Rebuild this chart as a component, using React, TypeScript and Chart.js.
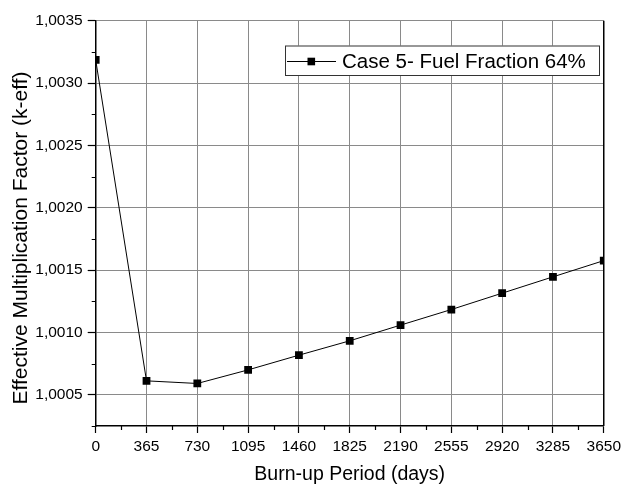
import React, { useEffect, useRef } from 'react';
import { Chart, registerables } from 'chart.js';

Chart.register(...registerables);

const burnupDays = [0, 365, 730, 1095, 1460, 1825, 2190, 2555, 2920, 3285, 3650];
const keff = [1.003185, 1.000612, 1.000591, 1.0007, 1.000818, 1.000933, 1.001059, 1.001184, 1.001315, 1.001446, 1.001576];
const xTickValues = [0, 365, 730, 1095, 1460, 1825, 2190, 2555, 2920, 3285, 3650];
const xMinorTicks = [182.5, 547.5, 912.5, 1277.5, 1642.5, 2007.5, 2372.5, 2737.5, 3102.5, 3467.5];
const yTickValues = [1.0005, 1.001, 1.0015, 1.002, 1.0025, 1.003, 1.0035];
const yMinorTicks = [1.00025, 1.00075, 1.00125, 1.00175, 1.00225, 1.00275, 1.00325];
const seriesLabel = 'Case 5- Fuel Fraction 64%';
const xTitle = 'Burn-up Period (days)';
const yTitle = 'Effective Multiplication Factor (k-eff)';

const FONT = '"Liberation Sans", Arial, Helvetica, sans-serif';

const extrasPlugin = {
  id: 'extras',
  afterDraw(chart: any) {
    const ctx = chart.ctx as CanvasRenderingContext2D;
    const area = chart.chartArea;
    const xs = chart.scales.x;
    const ys = chart.scales.y;
    ctx.save();
    // right border
    ctx.strokeStyle = '#000';
    ctx.lineWidth = 1.5;
    ctx.beginPath();
    ctx.moveTo(area.right, area.top);
    ctx.lineTo(area.right, area.bottom);
    ctx.stroke();
    // minor ticks
    ctx.lineWidth = 1.2;
    ctx.beginPath();
    xMinorTicks.forEach((v) => {
      const px = Math.round(xs.getPixelForValue(v)) + 0.5;
      ctx.moveTo(px, area.bottom);
      ctx.lineTo(px, area.bottom + 4);
    });
    yMinorTicks.forEach((v) => {
      const py = Math.round(ys.getPixelForValue(v)) + 0.5;
      ctx.moveTo(area.left - 4, py);
      ctx.lineTo(area.left, py);
    });
    ctx.stroke();
    // legend
    const bx = 285, by = 45.5, bw = 314, bh = 29.5;
    ctx.fillStyle = '#fff';
    ctx.fillRect(bx, by, bw, bh);
    ctx.strokeStyle = '#333';
    ctx.lineWidth = 1;
    ctx.strokeRect(bx + 0.5, by + 0.5, bw, bh);
    ctx.strokeStyle = '#000';
    ctx.beginPath();
    ctx.moveTo(287, 61.5);
    ctx.lineTo(336, 61.5);
    ctx.stroke();
    ctx.fillStyle = '#000';
    ctx.fillRect(311.3 - 3.8, 61.5 - 3.8, 7.6, 7.6);
    ctx.font = `20.5px ${FONT}`;
    ctx.textAlign = 'left';
    ctx.textBaseline = 'alphabetic';
    ctx.fillText(seriesLabel, 342, 67.5);
    // y title
    ctx.translate(26.7, 238);
    ctx.rotate(-Math.PI / 2);
    ctx.font = `21px ${FONT}`;
    ctx.textAlign = 'center';
    ctx.fillText(yTitle, 0, 0);
    ctx.restore();
  },
};

export default function App() {
  const ref = useRef<HTMLCanvasElement | null>(null);
  useEffect(() => {
    document.body.style.margin = '0';
    const canvas = ref.current;
    if (!canvas) return;
    const chart = new Chart(canvas, {
      type: 'line',
      data: {
        datasets: [
          {
            label: seriesLabel,
            data: burnupDays.map((d, i) => ({ x: d, y: keff[i] })),
            borderColor: '#000',
            borderWidth: 1,
            backgroundColor: '#000',
            pointStyle: 'rect',
            pointRadius: 5.5,
            pointBorderWidth: 0,
            pointBackgroundColor: '#000',
            tension: 0,
          },
        ],
      },
      options: {
        responsive: false,
        animation: false,
        devicePixelRatio: 1,
        layout: { padding: { top: 20.7, right: 19.7, left: 0, bottom: 0 } },
        plugins: {
          legend: { display: false },
          tooltip: { enabled: false },
        },
        scales: {
          x: {
            type: 'linear',
            min: 0,
            max: 3650,
            afterBuildTicks: (s: any) => {
              s.ticks = xTickValues.map((v) => ({ value: v }));
            },
            afterFit: (s: any) => {
              s.height = 58;
            },
            ticks: {
              color: '#000',
              font: { family: FONT, size: 15.5 },
              padding: 4,
              maxRotation: 0,
              autoSkip: false,
              callback: (v: any) => String(v),
            },
            grid: {
              color: '#8a8a8a',
              lineWidth: 1,
              tickLength: 7,
              tickColor: '#000',
              tickWidth: 1.2,
            },
            border: { color: '#000', width: 1.5 },
            title: {
              display: true,
              text: xTitle,
              color: '#000',
              font: { family: FONT, size: 19.5, lineHeight: 1 },
              padding: { top: 0, bottom: 0 },
            },
          },
          y: {
            type: 'linear',
            min: 1.00025,
            max: 1.0035,
            afterBuildTicks: (s: any) => {
              s.ticks = yTickValues.map((v) => ({ value: v }));
            },
            afterFit: (s: any) => {
              s.width = 95.7;
            },
            ticks: {
              color: '#000',
              font: { family: FONT, size: 15.5 },
              padding: 5,
              autoSkip: false,
              callback: (v: any) => Number(v).toFixed(4).replace('.', ','),
            },
            grid: {
              color: '#8a8a8a',
              lineWidth: 1,
              tickLength: 8,
              tickColor: '#000',
              tickWidth: 1.2,
            },
            border: { color: '#000', width: 1.5 },
          },
        },
      },
      plugins: [extrasPlugin],
    } as any);
    return () => chart.destroy();
  }, []);
  return (
    <div style={{ width: 625, height: 484, background: '#fff' }}>
      <canvas ref={ref} width={625} height={484} style={{ display: 'block' }} />
    </div>
  );
}
